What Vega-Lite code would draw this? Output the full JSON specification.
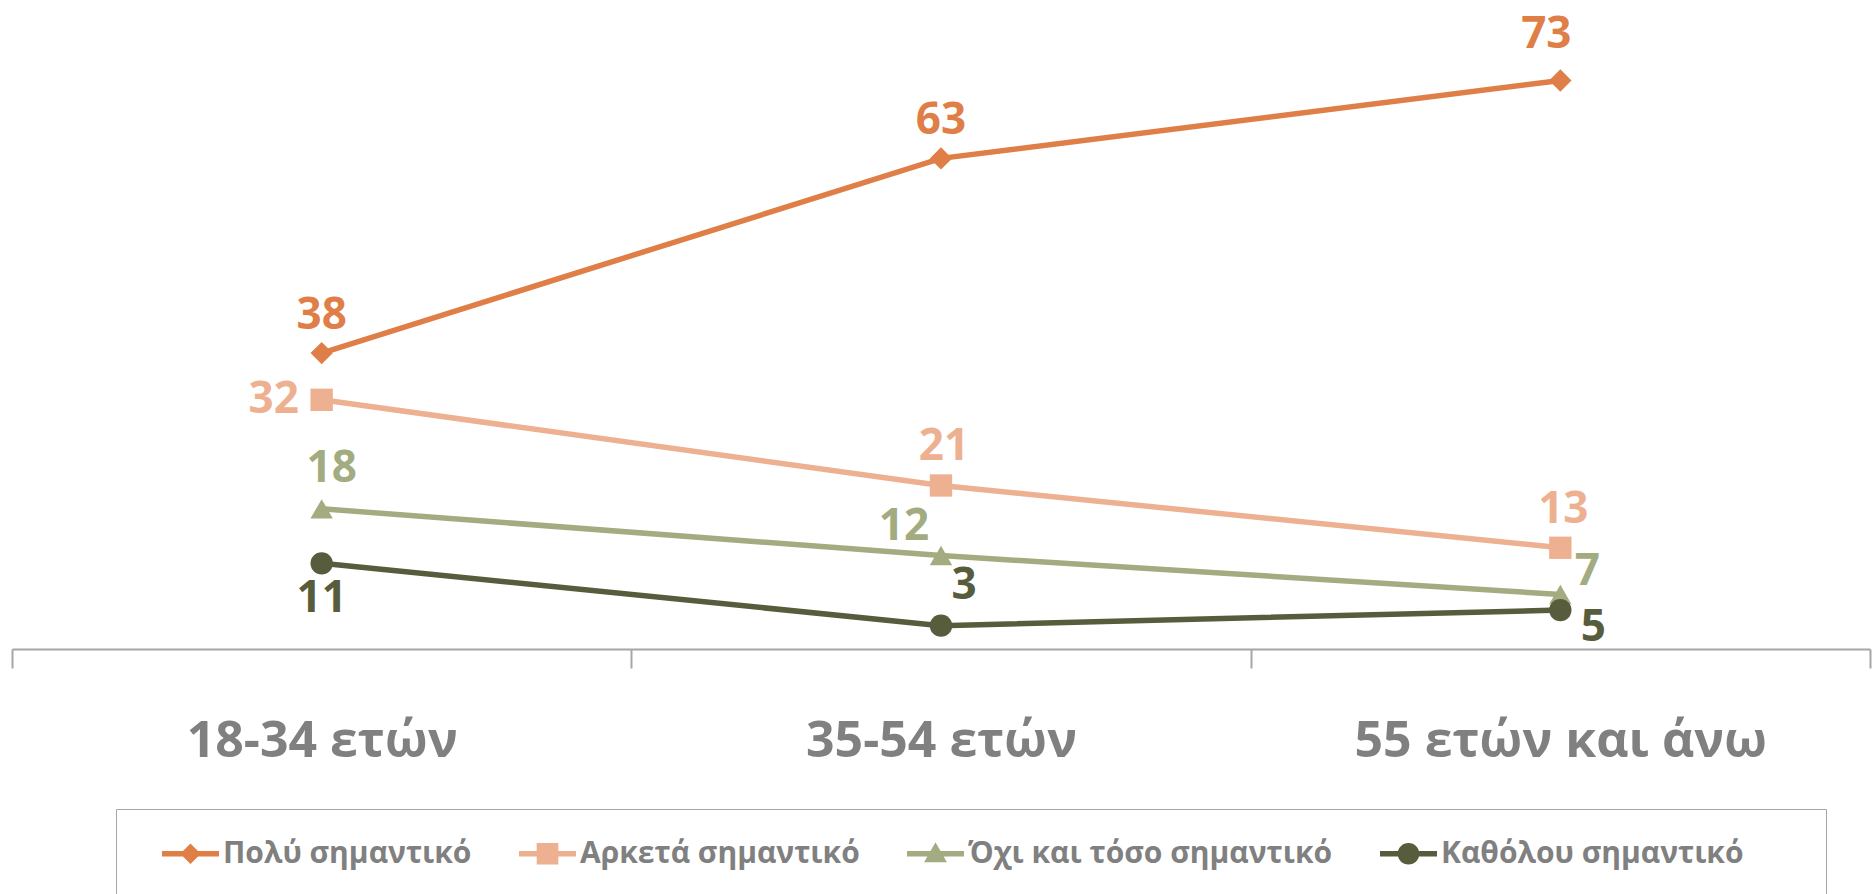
{
  "$schema": "https://vega.github.io/schema/vega-lite/v6.json",
  "width": 1858,
  "height": 623,
  "autosize": {"type": "none"},
  "padding": {"left": 12, "top": 26, "right": 4, "bottom": 245},
  "background": "white",
  "config": {"view": {"stroke": null}, "font": "Open Sans"},
  "data": {"values": [
    {"age": "18-34 ετών", "series": "Πολύ σημαντικό", "value": 38},
    {"age": "35-54 ετών", "series": "Πολύ σημαντικό", "value": 63},
    {"age": "55 ετών και άνω", "series": "Πολύ σημαντικό", "value": 73},
    {"age": "18-34 ετών", "series": "Αρκετά σημαντικό", "value": 32},
    {"age": "35-54 ετών", "series": "Αρκετά σημαντικό", "value": 21},
    {"age": "55 ετών και άνω", "series": "Αρκετά σημαντικό", "value": 13},
    {"age": "18-34 ετών", "series": "Όχι και τόσο σημαντικό", "value": 18},
    {"age": "35-54 ετών", "series": "Όχι και τόσο σημαντικό", "value": 12},
    {"age": "55 ετών και άνω", "series": "Όχι και τόσο σημαντικό", "value": 7},
    {"age": "18-34 ετών", "series": "Καθόλου σημαντικό", "value": 11},
    {"age": "35-54 ετών", "series": "Καθόλου σημαντικό", "value": 3},
    {"age": "55 ετών και άνω", "series": "Καθόλου σημαντικό", "value": 5}
  ]},
  "encoding": {
    "x": {"field": "age", "type": "nominal", "sort": null,
      "scale": {"type": "band", "paddingInner": 0, "paddingOuter": 0},
      "axis": {"title": null, "labelAngle": 0, "domainColor": "#a6a6a6", "domainWidth": 2,
        "tickColor": "#a6a6a6", "tickWidth": 2, "tickSize": 19, "tickBand": "extent",
        "labelFont": "Open Sans", "labelFontWeight": "bold", "labelFontSize": 50, "labelColor": "#808080",
        "labelBaseline": "middle", "labelPadding": 73, "labelLimit": 0}},
    "y": {"field": "value", "type": "quantitative", "scale": {"domain": [0, 80], "nice": false, "zero": true}, "axis": null},
    "color": {"field": "series", "type": "nominal", "legend": null,
      "scale": {"domain": ["Πολύ σημαντικό", "Αρκετά σημαντικό", "Όχι και τόσο σημαντικό", "Καθόλου σημαντικό"],
        "range": ["#df7f47", "#edb090", "#a3ab80", "#575c3c"]}}
  },
  "layer": [
    {"mark": {"type": "line", "strokeWidth": 5.5}},
    {"mark": {"type": "point", "filled": true, "opacity": 1, "size": 500},
      "encoding": {"shape": {"field": "series", "type": "nominal", "legend": null,
        "scale": {"domain": ["Πολύ σημαντικό", "Αρκετά σημαντικό", "Όχι και τόσο σημαντικό", "Καθόλου σημαντικό"],
          "range": ["diamond", "square", "triangle-up", "circle"]}}}},
    {"mark": {"type": "point", "filled": true, "opacity": 0},
      "encoding": {
        "color": {"field": "series", "type": "nominal",
          "scale": {"domain": ["Πολύ σημαντικό", "Αρκετά σημαντικό", "Όχι και τόσο σημαντικό", "Καθόλου σημαντικό"],
            "range": ["#df7f47", "#edb090", "#a3ab80", "#575c3c"]},
          "legend": {"title": [" ", " ", " ", " "], "titleOrient": "right", "titlePadding": 66, "titleFontSize": 10, "titleLineHeight": 30, "orient": "none", "legendX": 104, "legendY": 783, "direction": "horizontal", "columns": 4,
            "symbolSize": 3249, "symbolOpacity": 1, "symbolStrokeWidth": 0, "symbolOffset": 30,
            "labelFont": "Open Sans", "labelFontWeight": "bold", "labelFontSize": 30, "labelColor": "#808080",
            "labelOffset": 4, "columnPadding": 17, "padding": 16, "strokeColor": "#a6a6a6", "labelLimit": 600}},
        "shape": {"field": "series", "type": "nominal",
          "scale": {"domain": ["Πολύ σημαντικό", "Αρκετά σημαντικό", "Όχι και τόσο σημαντικό", "Καθόλου σημαντικό"],
            "range": [
              "M-1,-0.1H1V0.1H-1Z M0,-0.36L0.36,0L0,0.36L-0.36,0Z",
              "M-1,-0.1H1V0.1H-1Z M-0.38,-0.38H0.38V0.38H-0.38Z",
              "M-1,-0.1H1V0.1H-1Z M0,-0.4L0.4,0.3H-0.4Z",
              "M-1,-0.1H1V0.1H-1Z M-0.38,0A0.38,0.38,0,1,1,0.38,0A0.38,0.38,0,1,1,-0.38,0Z"
            ]},
          "legend": {"title": [" ", " ", " ", " "], "titleOrient": "right", "titlePadding": 66, "titleFontSize": 10, "titleLineHeight": 30, "orient": "none", "legendX": 104, "legendY": 783, "direction": "horizontal", "columns": 4,
            "symbolSize": 3249, "symbolOpacity": 1, "symbolStrokeWidth": 0, "symbolOffset": 30,
            "labelFont": "Open Sans", "labelFontWeight": "bold", "labelFontSize": 30, "labelColor": "#808080",
            "labelOffset": 4, "columnPadding": 17, "padding": 16, "strokeColor": "#a6a6a6", "labelLimit": 600}}
      }},
    {"transform": [{"filter": "datum.series == 'Πολύ σημαντικό' && datum.age != '55 ετών και άνω'"}],
      "mark": {"type": "text", "fontSize": 44, "fontWeight": "bold", "baseline": "middle", "dy": -37}, "encoding": {"text": {"field": "value"}}},
    {"transform": [{"filter": "datum.series == 'Πολύ σημαντικό' && datum.age == '55 ετών και άνω'"}],
      "mark": {"type": "text", "fontSize": 44, "fontWeight": "bold", "baseline": "middle", "dx": -14, "dy": -46}, "encoding": {"text": {"field": "value"}}},
    {"transform": [{"filter": "datum.series == 'Αρκετά σημαντικό' && datum.age == '18-34 ετών'"}],
      "mark": {"type": "text", "fontSize": 44, "fontWeight": "bold", "baseline": "middle", "dx": -48, "dy": 0}, "encoding": {"text": {"field": "value"}}},
    {"transform": [{"filter": "datum.series == 'Αρκετά σημαντικό' && datum.age != '18-34 ετών'"}],
      "mark": {"type": "text", "fontSize": 44, "fontWeight": "bold", "baseline": "middle", "dx": 3, "dy": -38}, "encoding": {"text": {"field": "value"}}},
    {"transform": [{"filter": "datum.series == 'Όχι και τόσο σημαντικό' && datum.age == '18-34 ετών'"}],
      "mark": {"type": "text", "fontSize": 44, "fontWeight": "bold", "baseline": "middle", "dx": 10, "dy": -40}, "encoding": {"text": {"field": "value"}}},
    {"transform": [{"filter": "datum.series == 'Όχι και τόσο σημαντικό' && datum.age == '35-54 ετών'"}],
      "mark": {"type": "text", "fontSize": 44, "fontWeight": "bold", "baseline": "middle", "dx": -37, "dy": -29}, "encoding": {"text": {"field": "value"}}},
    {"transform": [{"filter": "datum.series == 'Όχι και τόσο σημαντικό' && datum.age == '55 ετών και άνω'"}],
      "mark": {"type": "text", "fontSize": 44, "fontWeight": "bold", "baseline": "middle", "dx": 27, "dy": -22}, "encoding": {"text": {"field": "value"}}},
    {"transform": [{"filter": "datum.series == 'Καθόλου σημαντικό' && datum.age == '18-34 ετών'"}],
      "mark": {"type": "text", "fontSize": 44, "fontWeight": "bold", "baseline": "middle", "dy": 36}, "encoding": {"text": {"field": "value"}}},
    {"transform": [{"filter": "datum.series == 'Καθόλου σημαντικό' && datum.age == '35-54 ετών'"}],
      "mark": {"type": "text", "fontSize": 44, "fontWeight": "bold", "baseline": "middle", "dx": 23, "dy": -40}, "encoding": {"text": {"field": "value"}}},
    {"transform": [{"filter": "datum.series == 'Καθόλου σημαντικό' && datum.age == '55 ετών και άνω'"}],
      "mark": {"type": "text", "fontSize": 44, "fontWeight": "bold", "baseline": "middle", "dx": 33, "dy": 18}, "encoding": {"text": {"field": "value"}}}
  ],
  "resolve": {"scale": {"shape": "independent", "color": "independent"}, "legend": {"shape": "independent", "color": "independent"}}
}
